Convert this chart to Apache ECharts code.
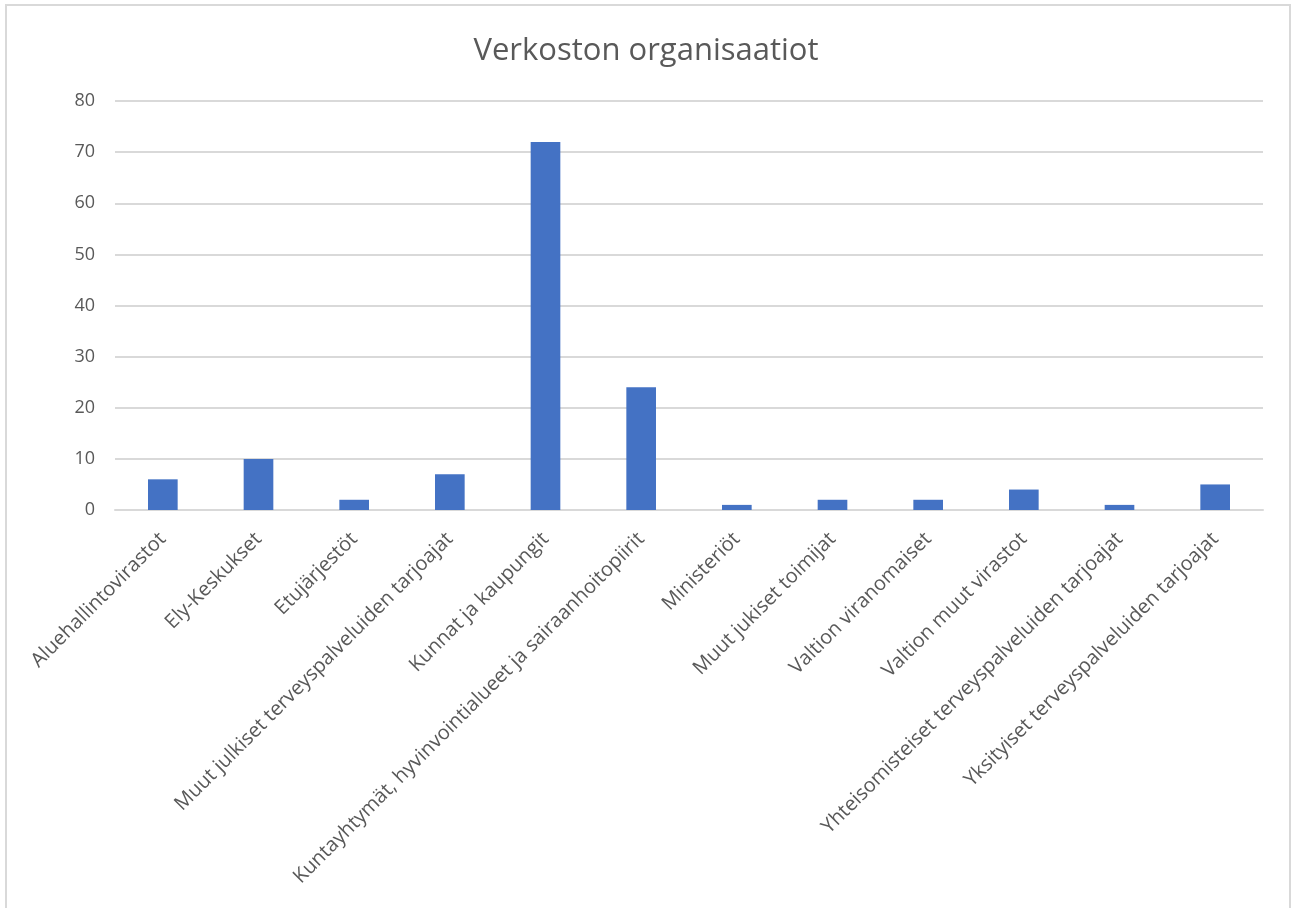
<!DOCTYPE html>
<html>
<head>
<meta charset="utf-8">
<script src="https://cdn.jsdelivr.net/npm/echarts@6/dist/echarts.min.js"></script>
<style>
  html, body { margin: 0; padding: 0; background: #fff; }
  #chart { width: 1292px; height: 908px; }
</style>
</head>
<body>
<div id="chart"></div>
<script>
// Organisation categories in the network and their counts
const categories = [
  'Aluehallintovirastot',
  'Ely-Keskukset',
  'Etujärjestöt',
  'Muut julkiset terveyspalveluiden tarjoajat',
  'Kunnat ja kaupungit',
  'Kuntayhtymät, hyvinvointialueet ja sairaanhoitopiirit',
  'Ministeriöt',
  'Muut jukiset toimijat',
  'Valtion viranomaiset',
  'Valtion muut virastot',
  'Yhteisomisteiset terveyspalveluiden tarjoajat',
  'Yksityiset terveyspalveluiden tarjoajat'
];
const counts = [6, 10, 2, 7, 72, 24, 1, 2, 2, 4, 1, 5];
const titleText = 'Verkoston organisaatiot';

const chart = echarts.init(document.getElementById('chart'), null, { renderer: 'canvas' });
const fontFamily = '"Open Sans", "Noto Sans", sans-serif';

chart.setOption({
  backgroundColor: '#ffffff',
  animation: false,
  title: {
    text: titleText,
    left: 'center',
    top: 31,
    textStyle: { fontFamily, fontSize: 31, fontWeight: 'normal', color: '#595959' }
  },
  graphic: [{
    type: 'rect',
    shape: { x: 6, y: 5, width: 1284, height: 930 },
    style: { fill: 'none', stroke: '#d9d9d9', lineWidth: 2 },
    silent: true
  }],
  grid: { left: 115, right: 29, top: 101, bottom: 398 },
  xAxis: {
    type: 'category',
    data: categories,
    axisLine: { lineStyle: { color: '#d9d9d9', width: 2 } },
    axisTick: { show: false },
    axisLabel: {
      interval: 0,
      rotate: 45,
      margin: 26,
      fontFamily,
      fontSize: 20,
      color: '#595959'
    }
  },
  yAxis: {
    type: 'value',
    min: 0,
    max: 80,
    interval: 10,
    axisLine: { show: false },
    axisTick: { show: false },
    splitLine: { lineStyle: { color: '#d9d9d9', width: 2 } },
    axisLabel: { fontFamily, fontSize: 18, color: '#595959', margin: 20 }
  },
  series: [{
    type: 'bar',
    data: counts,
    barWidth: '31%',
    itemStyle: { color: '#4472C4' }
  }]
});
</script>
</body>
</html>
